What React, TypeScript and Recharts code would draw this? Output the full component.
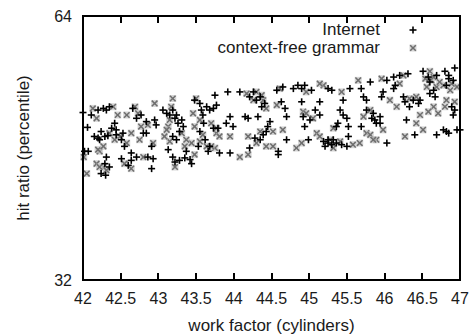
import React from "react";
import { ScatterChart, Scatter, XAxis, YAxis } from "recharts";

// hit ratio vs work factor, two traces
const internetPoints: [number, number][] = [
  [42.0, 52.3], [42.02, 47.6], [42.06, 50.5], [42.07, 47.6], [42.15, 49.4], [42.2, 52.6],
  [42.27, 52.8], [42.31, 52.6], [42.35, 53.0], [42.22, 49.0], [42.29, 49.4], [42.33, 49.5],
  [42.31, 46.9], [42.29, 46.1], [42.3, 44.7], [42.35, 45.7], [42.42, 51.0], [42.44, 50.2],
  [42.53, 49.8], [42.55, 48.2], [42.51, 46.7], [42.6, 45.9], [42.64, 46.5], [42.66, 52.8],
  [42.71, 51.6], [42.77, 52.0], [42.8, 49.8], [42.71, 46.9], [42.86, 46.9], [42.91, 45.5],
  [42.93, 46.7], [42.91, 48.2], [42.95, 51.4], [42.97, 50.8], [42.84, 51.2], [42.84, 49.8],
  [42.38, 50.4], [42.24, 50.0], [42.44, 49.6], [42.51, 49.0], [42.2, 49.2], [42.11, 52.0],
  [42.24, 44.9], [42.64, 47.4],
  [43.06, 52.6], [43.11, 52.2], [43.15, 52.0], [43.22, 51.6], [43.24, 52.0], [43.19, 49.4],
  [43.24, 49.0], [43.13, 47.8], [43.19, 46.9], [43.22, 46.3], [43.28, 46.5], [43.31, 51.4],
  [43.33, 50.6], [43.37, 47.6], [43.44, 46.1], [43.42, 46.6], [43.48, 53.8], [43.55, 53.4],
  [43.57, 52.6], [43.59, 52.0], [43.55, 50.0], [43.62, 49.0], [43.66, 47.6], [43.64, 53.0],
  [43.68, 52.6], [43.73, 52.8], [43.73, 50.4], [43.75, 54.4], [43.79, 50.4], [43.81, 47.4],
  [43.6, 51.0], [43.9, 51.0], [43.95, 51.8], [43.99, 50.6], [43.92, 54.8], [43.95, 47.4],
  [43.19, 52.6], [43.26, 51.0], [43.28, 50.0], [43.35, 46.8], [43.53, 48.2], [43.68, 48.2],
  [43.77, 53.2],
  [44.08, 54.8], [44.21, 54.2], [44.26, 54.8], [44.35, 54.2], [44.41, 53.4], [44.15, 51.8],
  [44.19, 51.6], [44.21, 48.0], [44.32, 51.8], [44.39, 49.6], [44.43, 50.0], [44.35, 49.0],
  [44.48, 51.2], [44.57, 55.0], [44.65, 55.4], [44.63, 53.6], [44.68, 52.8], [44.7, 51.8],
  [44.7, 49.0], [44.59, 47.6], [44.59, 47.2], [44.79, 55.2], [44.85, 55.6], [44.9, 55.2],
  [44.94, 55.6], [45.03, 55.0], [44.9, 53.6], [44.92, 51.8], [44.94, 50.6], [44.99, 49.0],
  [44.3, 53.8], [44.37, 53.0], [44.28, 49.2], [44.45, 50.6],
  [45.01, 51.4], [45.08, 52.6], [45.14, 52.0], [45.14, 53.6], [45.25, 55.2], [45.3, 55.0],
  [45.19, 48.8], [45.21, 48.2], [45.25, 48.6], [45.32, 49.0], [45.3, 48.4], [45.36, 50.6],
  [45.38, 51.0], [45.41, 52.6], [45.45, 53.8], [45.45, 52.0], [45.5, 51.6], [45.52, 50.6],
  [45.52, 49.4], [45.54, 55.2], [45.43, 48.4], [45.69, 55.2], [45.72, 54.2], [45.76, 53.8],
  [45.81, 56.0], [45.85, 52.2], [45.87, 51.4], [45.89, 51.0], [45.69, 50.6], [46.03, 48.6],
  [45.94, 51.8], [45.96, 54.2], [45.98, 54.8], [46.03, 56.2],
  [45.25, 49.0], [45.36, 48.6], [45.5, 48.2], [45.76, 52.6], [45.83, 51.6], [45.94, 51.0],
  [46.12, 56.6], [46.14, 55.6],
  [46.2, 56.8], [46.31, 57.0], [46.25, 54.2], [46.27, 53.6], [46.29, 51.4], [46.38, 53.8],
  [46.45, 53.4], [46.4, 49.6], [46.51, 57.3], [46.58, 56.6], [46.65, 55.0], [46.6, 54.6],
  [46.67, 54.2], [46.69, 49.6], [46.8, 57.3], [46.85, 56.8], [46.91, 56.2], [46.93, 57.7],
  [46.89, 53.0], [46.91, 52.0], [46.82, 50.0], [46.78, 50.2], [46.96, 50.2], [46.85, 49.8],
  [46.12, 55.2], [46.33, 53.0], [46.47, 53.8], [46.6, 56.0], [46.69, 56.8], [46.85, 56.4],
  [46.82, 55.6], [46.93, 52.6], [47.0, 50.2],
];

const grammarPoints: [number, number][] = [
  [42.01, 46.9], [42.05, 44.9], [42.13, 52.8], [42.18, 51.6], [42.4, 53.0], [42.22, 47.6],
  [42.27, 45.7], [42.31, 45.3], [42.18, 46.1], [42.2, 47.8], [42.46, 52.0], [42.49, 49.4],
  [42.58, 48.6], [42.55, 46.1], [42.64, 45.5], [42.69, 53.0], [42.73, 52.2], [42.58, 52.0],
  [42.75, 49.0], [42.8, 46.9], [42.93, 48.6], [42.86, 50.8], [42.77, 50.6], [42.95, 53.4],
  [42.35, 49.8], [42.42, 49.0], [42.27, 48.2], [42.22, 45.7], [42.64, 49.8],
  [43.17, 53.0], [43.19, 54.0], [43.13, 50.6], [43.11, 50.2], [43.15, 48.8], [43.22, 45.7],
  [43.31, 49.8], [43.35, 48.2], [43.44, 48.6], [43.48, 47.2], [43.5, 54.0], [43.46, 52.2],
  [43.48, 50.6], [43.64, 48.2], [43.7, 51.0], [43.77, 49.8], [43.81, 49.4], [43.75, 48.0],
  [43.7, 48.2], [43.55, 51.4], [43.95, 49.4],
  [43.15, 51.4], [43.08, 49.4], [43.37, 49.0], [43.55, 48.8], [43.59, 49.6], [43.77, 50.4],
  [44.17, 54.6], [44.3, 54.8], [44.39, 53.8],
  [44.43, 52.8], [44.19, 49.4], [44.19, 47.2], [44.35, 50.0], [44.3, 48.6], [44.43, 48.2],
  [44.61, 55.2], [44.57, 53.2], [44.65, 50.2], [44.52, 48.2], [44.96, 54.8], [44.92, 52.4],
  [44.83, 48.0], [44.9, 48.6], [44.96, 52.2],
  [44.08, 46.9], [44.37, 54.4], [44.26, 53.8], [44.52, 50.0],
  [45.05, 51.6], [45.19, 55.6], [45.1, 49.8],
  [45.14, 49.4], [45.32, 48.0], [45.32, 50.4], [45.58, 48.4], [45.43, 54.8], [45.65, 56.2],
  [45.81, 52.6], [45.72, 51.8], [45.76, 49.8], [45.81, 49.6], [45.89, 49.0], [45.98, 50.2],
  [45.96, 56.4],
  [45.14, 55.8], [45.28, 49.0], [45.41, 48.8], [45.67, 48.6], [45.85, 49.0],
  [46.07, 53.8], [46.25, 56.8], [46.16, 53.0], [46.27, 49.4], [46.42, 54.2],
  [46.42, 51.0], [46.47, 52.0], [46.51, 50.2], [46.54, 56.4], [46.6, 57.3], [46.62, 56.2],
  [46.69, 55.4], [46.65, 53.0], [46.71, 52.2], [46.78, 55.6], [46.87, 55.0], [46.96, 55.4],
  [46.93, 53.6], [46.8, 53.0], [46.58, 52.4],
  [46.2, 55.8], [46.33, 54.0], [46.56, 55.4], [46.65, 56.6], [46.73, 56.0], [46.89, 55.8],
  [46.82, 53.8],
];

const seriesNames = ["Internet", "context-free grammar"];
const xTicks = [42, 42.5, 43, 43.5, 44, 44.5, 45, 45.5, 46, 46.5, 47];
const yTicks = [32, 64];
const xDomain: [number, number] = [42, 47];
const yDomain: [number, number] = [32, 64];

const toRows = (pts: [number, number][]) => pts.map(([x, y]) => ({ x, y }));

const font = '"Liberation Sans", Arial, sans-serif';
const ink = "#1a1a1a";

// plot box inside the 471x335 chart
const plot = { left: 83, top: 16, right: 11, bottom: 55 };
const plotW = 471 - plot.left - plot.right;
const plotH = 335 - plot.top - plot.bottom;

function PlusMark(props: any) {
  const { cx, cy } = props;
  const r = 3.5;
  return (
    <g>
      <line x1={cx - r} y1={cy} x2={cx + r} y2={cy} stroke="#000" strokeWidth={1.6} />
      <line x1={cx} y1={cy - r} x2={cx} y2={cy + r} stroke="#000" strokeWidth={1.6} />
    </g>
  );
}

function CrossMark(props: any) {
  const { cx, cy } = props;
  const r = 2.8;
  return (
    <g>
      <rect x={cx - 3.5} y={cy - 3.5} width={7} height={7} fill="#c4c4c4" opacity={0.7} />
      <line x1={cx - r} y1={cy - r} x2={cx + r} y2={cy + r} stroke="#6e6e6e" strokeWidth={1.5} />
      <line x1={cx - r} y1={cy + r} x2={cx + r} y2={cy - r} stroke="#6e6e6e" strokeWidth={1.5} />
    </g>
  );
}

// gnuplot-style border with inward ticks, laid over the plot box
function Frame() {
  const gaps = xTicks.length - 1;
  const tickRow = (edge: "top" | "bottom") => (
    <div
      style={{
        position: "absolute",
        left: 0,
        right: 0,
        [edge]: 0,
        height: 6,
        display: "flex",
      }}
    >
      {Array.from({ length: gaps }, (_, i) => (
        <div
          key={i}
          style={{
            flex: 1,
            borderRight: i < gaps - 1 ? "2px solid #000" : "none",
          }}
        />
      ))}
    </div>
  );
  return (
    <div
      style={{
        position: "absolute",
        left: plot.left - 1,
        top: plot.top - 1,
        width: plotW + 2,
        height: plotH + 2,
        border: "2px solid #000",
        boxSizing: "border-box",
        pointerEvents: "none",
      }}
    >
      {tickRow("top")}
      {tickRow("bottom")}
    </div>
  );
}

function KeyBox() {
  return (
    <div
      style={{
        position: "absolute",
        top: 21,
        left: 146,
        width: 300,
        fontFamily: font,
        fontSize: 17,
        color: ink,
      }}
    >
      {seriesNames.map((name, i) => (
        <div
          key={name}
          style={{ display: "flex", justifyContent: "flex-end", alignItems: "center", height: 18 }}
        >
          <span>{name}</span>
          <svg width={66} height={18}>
            {i === 0 ? <PlusMark cx={33} cy={9} /> : <CrossMark cx={33} cy={9} />}
          </svg>
        </div>
      ))}
    </div>
  );
}

export default function App() {
  return (
    <div
      style={{
        position: "absolute",
        left: 0,
        top: 0,
        width: 471,
        height: 335,
        background: "#fff",
        fontFamily: font,
      }}
    >
      <ScatterChart
        width={471}
        height={335}
        margin={{ top: plot.top, right: plot.right, bottom: 0, left: 0 }}
      >
        <XAxis
          type="number"
          dataKey="x"
          domain={xDomain}
          ticks={xTicks}
          height={plot.bottom}
          tickSize={0}
          tickMargin={13}
          tickLine={false}
          stroke="#000"
          strokeWidth={1.5}
          tick={{ fontSize: 16, fill: ink }}
          label={{
            value: "work factor (cylinders)",
            position: "insideBottom",
            offset: 4,
            fontSize: 17,
            fill: ink,
          }}
        />
        <YAxis
          type="number"
          dataKey="y"
          domain={yDomain}
          ticks={yTicks}
          width={plot.left}
          tickSize={0}
          tickMargin={11}
          tickLine={false}
          stroke="#000"
          strokeWidth={1.5}
          tick={{ fontSize: 16, fill: ink }}
          label={{
            value: "hit ratio (percentile)",
            angle: -90,
            position: "center",
            dx: -19,
            fontSize: 17,
            fill: ink,
          }}
        />
        <Scatter
          name={seriesNames[1]}
          data={toRows(grammarPoints)}
          shape={<CrossMark />}
          isAnimationActive={false}
        />
        <Scatter
          name={seriesNames[0]}
          data={toRows(internetPoints)}
          shape={<PlusMark />}
          isAnimationActive={false}
        />
      </ScatterChart>
      <Frame />
      <KeyBox />
    </div>
  );
}
